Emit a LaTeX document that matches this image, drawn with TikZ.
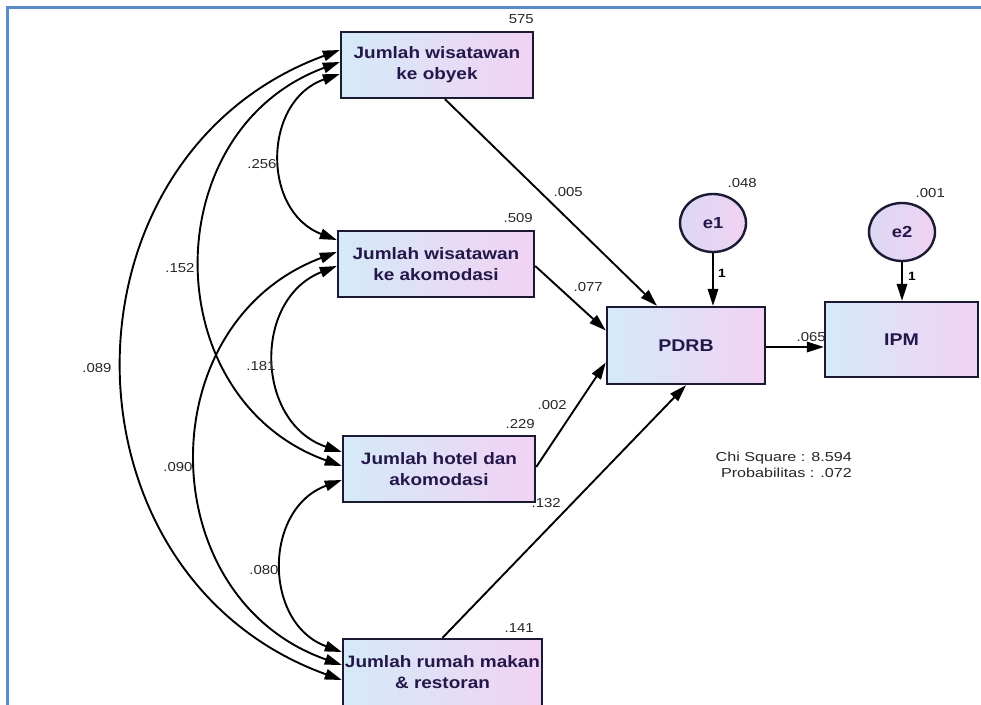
\documentclass[tikz,border=0pt]{standalone}
\usepackage{fontspec}
\setmainfont{Liberation Sans}[FakeStretch=1.15]
\usetikzlibrary{arrows.meta,shapes.geometric,calc}
\definecolor{frameblue}{HTML}{5B8BC8}
\definecolor{ink}{HTML}{1A1A33}
\definecolor{boxtext}{HTML}{24174A}
\definecolor{boxleft}{HTML}{D4EAF8}
\definecolor{boxright}{HTML}{F2D2F4}
\definecolor{ovalleft}{HTML}{DCD8F4}
\definecolor{ovalright}{HTML}{F0D2F4}
\begin{document}
\begin{tikzpicture}[x=1pt,y=-1pt,
  var/.style={draw=ink, line width=2.4pt, left color=boxleft, right color=boxright,
    minimum height=66pt, inner sep=0pt, align=center, text=boxtext,
    font=\fontsize{16.5}{21}\selectfont\bfseries},
  err/.style={ellipse, draw=ink, line width=2.4pt, left color=ovalleft, right color=ovalright,
    minimum width=66pt, minimum height=58pt, inner sep=0pt, text=boxtext,
    font=\fontsize{16}{18}\selectfont\bfseries},
  lbl/.style={inner sep=0pt, text=black!85, font=\fontsize{13}{15}\selectfont},
  one/.style={inner sep=0pt, text=black, font=\fontsize{12}{14}\selectfont\bfseries},
  tip/.tip={Triangle[length=17pt,width=10.5pt]},
  path/.style={-tip, line width=1.9pt},
  cov/.style={tip-tip, line width=1.9pt, bend right=70, looseness=1.25}]
\useasboundingbox (0,0) rectangle (981,704);
\clip (0,0) rectangle (981,704);

% frame
\draw[frameblue, line width=3pt] (7,706) -- (7,7) -- (983,7);

% observed exogenous variables
\node[var, minimum width=192pt] (b1) at (437,65) {Jumlah wisatawan\\ke obyek};
\node[var, minimum width=196pt] (b2) at (436,264) {Jumlah wisatawan\\ke akomodasi};
\node[var, minimum width=192pt] (b3) at (439,469) {Jumlah hotel dan\\akomodasi};
\node[var, minimum width=199pt, minimum height=76pt, text depth=10pt] (b4) at (442.5,677) {Jumlah rumah makan\\\& restoran};

% endogenous variables and errors
\node[var, minimum width=158pt, minimum height=77pt, font=\fontsize{17}{19}\selectfont\bfseries] (pdrb) at (686,345.5) {PDRB};
\node[var, minimum width=153pt, minimum height=75pt, font=\fontsize{17}{19}\selectfont\bfseries] (ipm) at (901.5,339.5) {IPM};
\node[err] (e1) at (713,223) {e1};
\node[err] (e2) at (902,232) {e2};

% covariance end points on the left edges
\coordinate (a1) at ([yshift=15pt]b1.west);
\coordinate (a2) at ([yshift=3pt]b1.west);
\coordinate (a3) at ([yshift=-9pt]b1.west);
\coordinate (c1) at ([yshift=24pt]b2.west);
\coordinate (c2) at ([yshift=12pt]b2.west);
\coordinate (c3) at ([yshift=-2pt]b2.west);
\coordinate (d1) at ([yshift=17pt]b3.west);
\coordinate (d2) at ([yshift=3pt]b3.west);
\coordinate (d3) at ([yshift=-11pt]b3.west);
\coordinate (f1) at ([yshift=25pt]b4.west);
\coordinate (f2) at ([yshift=12pt]b4.west);
\coordinate (f3) at ([yshift=-3pt]b4.west);

% covariances
\draw[cov] (a1) to (f3);
\draw[cov] (a2) to (d2);
\draw[cov] (a3) to (c1);
\draw[cov] (c2) to (f2);
\draw[cov] (c3) to (d1);
\draw[cov] (d3) to (f1);

% regression paths
\draw[path] ([xshift=8pt]b1.south) -- ([xshift=-29pt]pdrb.north);
\draw[path] ([yshift=-2pt]b2.east) -- ([yshift=15pt]pdrb.west);
\draw[path] ([yshift=2pt]b3.east) -- ([yshift=-17pt]pdrb.west);
\draw[path] (b4.north) -- (pdrb.south);
\draw[path] (e1.south) -- (e1.south |- pdrb.north);
\draw[path] (e2.south) -- (e2.south |- ipm.north);
\draw[path] ([yshift=-1.5pt]pdrb.east) -- ([yshift=-1.5pt]pdrb.east -| ipm.west);

% estimates
\node[lbl, anchor=east] (v1) at (534,19) {575};
\node[lbl, anchor=east] (v2) at (533,218) {.509};
\node[lbl, anchor=east] (v3) at (535,424) {.229};
\node[lbl, anchor=east] (v4) at (534,628) {.141};
\node[lbl, anchor=east] (v5) at (757,183) {.048};
\node[lbl, anchor=east] (v6) at (945,193) {.001};
\node[lbl, anchor=east] (p1) at (583,192) {.005};
\node[lbl, anchor=east] (p2) at (603,287) {.077};
\node[lbl, anchor=east] (p3) at (567,405) {.002};
\node[lbl, anchor=east] (p4) at (561,503) {.132};
\node[lbl, anchor=east] (p5) at (826,337) {.065};
\node[lbl] (k1) at (262,164) {.256};
\node[lbl] (k2) at (180,268) {.152};
\node[lbl] (k3) at (97,368) {.089};
\node[lbl] (k4) at (261,366) {.181};
\node[lbl] (k5) at (178,467) {.090};
\node[lbl] (k6) at (264,570) {.080};
\node[one] (w1) at (722,273) {1};
\node[one] (w2) at (912,276) {1};

% fit statistics
\node[lbl, anchor=east] (chi) at (852,458) {\scalebox{1.08}[1]{Chi Square : 8.594}};
\node[lbl, anchor=east] (prob) at (852,473) {\scalebox{1.08}[1]{Probabilitas : .072}};
\end{tikzpicture}
\end{document}
